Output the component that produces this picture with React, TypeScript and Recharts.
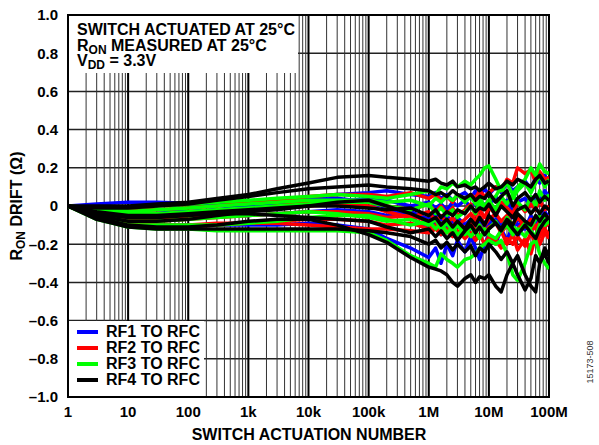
import React from 'react'
import { LineChart, Line, XAxis, YAxis, CartesianGrid, ReferenceArea, ReferenceLine } from 'recharts'

const actuations = [
  1, 3, 10, 30, 100, 300, 1e3, 3e3, 1e4, 3e4, 1e5, 2e5, 5e5,
  1e6, 1.3e6, 1.6e6, 2e6, 2.5e6, 3e6, 4e6, 5e6, 6e6, 7e6, 8.5e6,
  1e7, 1.3e7, 1.6e7, 2e7, 2.5e7, 3e7, 4e7, 5e7, 6e7, 7e7, 8.5e7, 1e8,
]

// RF1 TO RFC (blue)
const rf1a = [0, 0.01, 0.02, 0.02, 0.015, 0.01, 0.01, 0.02, 0.04, 0.06, 0.07, 0.08, 0.06, 0.05, 0.07, 0.04, 0.06, 0.03, 0.05, 0.07, 0.04, 0.08, 0.05, 0.09, 0.06, 0.1, 0.07, 0.12, 0.08, 0.1, 0.13, 0.09, 0.15, 0.12, 0.16, 0.13]
const rf1b = [0, -0.01, -0.02, -0.02, -0.03, -0.02, -0.01, 0, 0.01, 0.02, 0.04, 0.03, 0, 0.02, -0.01, 0.01, -0.02, 0.02, 0, 0.03, -0.01, 0.02, -0.02, 0.01, 0, 0.05, 0.01, 0.03, -0.03, 0.02, 0.04, 0, 0.06, 0.02, 0.08, 0.05]
const rf1c = [0, -0.03, -0.05, -0.06, -0.06, -0.05, -0.05, -0.04, -0.03, -0.02, -0.03, -0.05, -0.03, -0.07, -0.04, -0.08, -0.05, -0.09, -0.06, -0.1, -0.07, -0.11, -0.06, -0.09, -0.08, -0.04, -0.1, -0.07, -0.12, -0.06, -0.12, -0.05, -0.1, -0.07, -0.03, -0.06]
const rf1d = [0, -0.05, -0.09, -0.1, -0.1, -0.1, -0.1, -0.1, -0.09, -0.1, -0.12, -0.17, -0.22, -0.27, -0.22, -0.3, -0.2, -0.26, -0.18, -0.24, -0.16, -0.22, -0.28, -0.2, -0.15, -0.2, -0.12, -0.18, -0.1, -0.16, -0.1, -0.14, -0.08, -0.12, -0.06, -0.1]
const rf1e = [0, -0.02, -0.04, -0.04, -0.03, -0.02, 0, 0.01, 0.03, 0.04, 0.02, -0.01, -0.06, -0.12, -0.08, -0.15, -0.1, -0.14, -0.09, -0.16, -0.11, -0.13, -0.08, -0.12, -0.1, -0.07, -0.13, -0.09, -0.05, -0.1, -0.08, -0.12, -0.06, -0.05, -0.09, -0.07]

// RF2 TO RFC (red)
const rf2a = [0, -0.01, -0.02, -0.02, -0.01, 0, 0.02, 0.03, 0.05, 0.06, 0.06, 0.05, 0.07, 0.04, 0.06, 0.03, 0.05, 0.02, 0.06, 0.03, 0.06, 0.04, 0.08, 0.05, 0.07, 0.1, 0.08, 0.14, 0.12, 0.2, 0.17, 0.19, 0.12, 0.18, 0.14, 0.15]
const rf2b = [0, -0.03, -0.05, -0.05, -0.04, -0.03, -0.02, -0.01, 0, 0.01, 0.02, 0, -0.02, 0.01, -0.03, 0, -0.04, -0.01, -0.05, -0.02, 0.01, -0.05, -0.02, -0.06, -0.01, -0.04, 0.02, -0.01, -0.04, 0.02, -0.03, 0.01, -0.02, 0.03, -0.02, 0]
const rf2c = [0, -0.05, -0.08, -0.08, -0.07, -0.06, -0.05, -0.04, -0.03, -0.03, -0.04, -0.06, -0.05, -0.08, -0.06, -0.1, -0.07, -0.11, -0.08, -0.12, -0.09, -0.13, -0.1, -0.14, -0.11, -0.09, -0.14, -0.1, -0.15, -0.12, -0.08, -0.13, -0.1, -0.15, -0.11, -0.09]
const rf2d = [0, -0.06, -0.1, -0.11, -0.11, -0.1, -0.09, -0.08, -0.07, -0.07, -0.08, -0.1, -0.09, -0.12, -0.1, -0.14, -0.12, -0.15, -0.13, -0.17, -0.14, -0.18, -0.15, -0.2, -0.16, -0.18, -0.22, -0.17, -0.2, -0.16, -0.21, -0.14, -0.2, -0.16, -0.12, -0.15]
const rf2e = [0, -0.04, -0.07, -0.07, -0.06, -0.04, -0.02, 0, 0.02, 0.02, 0, -0.03, -0.06, -0.03, -0.08, -0.05, -0.09, -0.06, -0.1, -0.07, -0.04, -0.08, -0.05, -0.1, -0.07, -0.04, -0.08, -0.05, -0.1, -0.06, -0.11, -0.07, -0.12, -0.08, -0.05, -0.06]
const rf2f = [0, -0.05, -0.09, -0.1, -0.1, -0.09, -0.09, -0.09, -0.1, -0.11, -0.12, -0.12, -0.13, -0.14, -0.12, -0.15, -0.13, -0.16, -0.14, -0.11, -0.15, -0.13, -0.17, -0.12, -0.15, -0.18, -0.13, -0.2, -0.15, -0.23, -0.17, -0.25, -0.16, -0.2, -0.14, -0.17]

// RF3 TO RFC (green)
const rf3a = [0, -0.01, -0.01, 0, 0.01, 0.02, 0.03, 0.04, 0.05, 0.06, 0.05, 0.04, 0.06, 0.08, 0.06, 0.1, 0.09, 0.12, 0.1, 0.13, 0.11, 0.14, 0.16, 0.2, 0.21, 0.14, 0.08, 0.12, 0.06, 0.1, 0.14, 0.2, 0.16, 0.22, 0.18, 0.17]
const rf3b = [0, -0.03, -0.04, -0.04, -0.03, -0.02, -0.01, 0, 0.01, 0.02, 0.02, 0, -0.02, 0.01, -0.04, -0.01, -0.05, -0.02, -0.06, -0.03, 0, -0.04, 0.02, -0.01, 0.03, -0.02, 0.05, 0.01, 0.06, 0.02, -0.02, 0.05, 0, 0.08, 0.03, 0.06]
const rf3c = [0, -0.05, -0.08, -0.08, -0.07, -0.06, -0.05, -0.04, -0.03, -0.04, -0.06, -0.08, -0.07, -0.1, -0.07, -0.12, -0.09, -0.13, -0.1, -0.15, -0.11, -0.14, -0.1, -0.15, -0.12, -0.08, -0.13, -0.06, -0.1, -0.14, -0.09, -0.13, -0.16, -0.1, -0.05, -0.09]
const rf3d = [0, -0.07, -0.11, -0.12, -0.12, -0.13, -0.13, -0.13, -0.13, -0.13, -0.14, -0.18, -0.26, -0.3, -0.32, -0.25, -0.28, -0.3, -0.32, -0.28, -0.27, -0.25, -0.22, -0.2, -0.18, -0.2, -0.18, -0.25, -0.36, -0.39, -0.3, -0.2, -0.18, -0.25, -0.3, -0.33]
const rf3e = [0, -0.06, -0.1, -0.1, -0.1, -0.1, -0.09, -0.08, -0.06, -0.05, -0.05, -0.07, -0.1, -0.08, -0.12, -0.09, -0.14, -0.11, -0.15, -0.12, -0.16, -0.13, -0.17, -0.12, -0.15, -0.17, -0.13, -0.1, -0.15, -0.12, -0.16, -0.11, -0.07, -0.05, -0.1, -0.08]
const rf3f = [0, -0.02, -0.03, -0.02, -0.01, 0, 0.01, 0.02, 0.03, 0.03, 0.03, 0.02, 0.03, 0, 0.04, 0.02, 0.05, 0.03, 0.06, 0.02, 0.05, 0.01, 0.04, 0, 0.03, 0.05, 0.1, 0.06, 0.04, 0.08, 0.12, 0.07, 0.12, 0.16, 0.1, 0.14]

// RF4 TO RFC (black)
const rf4a = [0, 0, 0, 0.01, 0.02, 0.04, 0.06, 0.09, 0.12, 0.15, 0.16, 0.15, 0.14, 0.13, 0.14, 0.12, 0.11, 0.13, 0.1, 0.11, 0.09, 0.1, 0.08, 0.1, 0.12, 0.09, 0.1, 0.13, 0.11, 0.14, 0.12, 0.1, 0.14, 0.16, 0.12, 0.13]
const rf4b = [0, -0.01, -0.01, 0, 0.01, 0.03, 0.05, 0.07, 0.09, 0.1, 0.11, 0.1, 0.09, 0.08, 0.06, 0.07, 0.05, 0.08, 0.06, 0.04, 0.06, 0.03, 0.05, 0.04, 0.07, 0.02, 0.05, 0.08, 0, 0.04, 0.07, 0.03, 0.06, 0.02, 0.05, 0.03]
const rf4c = [0, -0.03, -0.05, -0.05, -0.04, -0.03, -0.02, -0.01, 0, 0, -0.01, -0.02, -0.01, -0.05, -0.02, -0.06, -0.03, -0.05, -0.02, -0.04, 0, -0.03, -0.01, -0.02, 0.01, -0.05, 0, -0.03, -0.06, -0.02, 0, -0.04, -0.01, -0.04, 0, -0.02]
const rf4d = [0, -0.06, -0.1, -0.11, -0.11, -0.1, -0.08, -0.07, -0.07, -0.1, -0.15, -0.19, -0.27, -0.32, -0.33, -0.34, -0.36, -0.4, -0.42, -0.38, -0.36, -0.4, -0.37, -0.38, -0.36, -0.42, -0.45, -0.36, -0.3, -0.36, -0.44, -0.38, -0.26, -0.3, -0.22, -0.26]
const rf4e = [0, -0.07, -0.11, -0.12, -0.12, -0.12, -0.12, -0.12, -0.12, -0.12, -0.13, -0.14, -0.16, -0.2, -0.18, -0.22, -0.19, -0.23, -0.2, -0.24, -0.21, -0.26, -0.22, -0.24, -0.2, -0.24, -0.28, -0.24, -0.3, -0.26, -0.36, -0.42, -0.45, -0.3, -0.25, -0.3]
const rf4f = [0, -0.05, -0.08, -0.08, -0.07, -0.05, -0.03, -0.02, 0, 0.02, 0.03, 0, -0.04, -0.08, -0.06, -0.1, -0.07, -0.11, -0.08, -0.12, -0.07, -0.1, -0.06, -0.1, -0.05, -0.09, -0.12, -0.07, -0.1, -0.04, -0.08, -0.1, -0.05, -0.08, -0.04, -0.07]
const rf4g = [0, -0.04, -0.06, -0.06, -0.05, -0.04, -0.04, -0.05, -0.06, -0.07, -0.08, -0.11, -0.14, -0.12, -0.16, -0.13, -0.17, -0.14, -0.18, -0.13, -0.1, -0.14, -0.11, -0.15, -0.12, -0.09, -0.13, -0.08, -0.12, -0.15, -0.1, -0.14, -0.17, -0.12, -0.08, -0.06]

const groups = [
  { name: 'RF1 TO RFC', color: '#0000ff', lines: [rf1a, rf1b, rf1c, rf1d, rf1e] },
  { name: 'RF2 TO RFC', color: '#ff0000', lines: [rf2a, rf2b, rf2c, rf2d, rf2e, rf2f] },
  { name: 'RF3 TO RFC', color: '#00ff00', lines: [rf3a, rf3b, rf3c, rf3d, rf3e, rf3f] },
  { name: 'RF4 TO RFC', color: '#000000', lines: [rf4a, rf4b, rf4c, rf4d, rf4e, rf4f, rf4g] },
]

const decades = [1, 10, 100, 1e3, 1e4, 1e5, 1e6, 1e7, 1e8]
const decadeLabels = ['1', '10', '100', '1k', '10k', '100k', '1M', '10M', '100M']
const yTicks = [-1, -0.8, -0.6, -0.4, -0.2, 0, 0.2, 0.4, 0.6, 0.8, 1]

// every 1..9 x 10^n position gets a grid line, only decades get a label
const xTicks: number[] = []
for (let d = 0; d < 8; d++) for (let m = 1; m < 10; m++) xTicks.push(m * Math.pow(10, d))
xTicks.push(1e8)

const series: { key: string; color: string }[] = []
const data = actuations.map((x, i) => {
  const row: Record<string, number> = { x }
  groups.forEach((g, gi) =>
    g.lines.forEach((vals, li) => {
      row[`s${gi}_${li}`] = vals[i]
    }),
  )
  return row
})
groups.forEach((g, gi) => g.lines.forEach((_, li) => series.push({ key: `s${gi}_${li}`, color: g.color })))

const font = 'Arial, "Liberation Sans", sans-serif'
const subStyle = { fontSize: 12, verticalAlign: -3, lineHeight: 0 }

const fmtX = (v: number) => {
  const i = decades.indexOf(v)
  return i >= 0 ? decadeLabels[i] : ''
}
const fmtY = (v: number) => (v === 0 ? '0' : (v < 0 ? '–' : '') + Math.abs(v).toFixed(1))

export default function App() {
  return (
    <div style={{ position: 'absolute', left: 0, top: 0, width: 599, height: 445, background: '#fff', fontFamily: font }}>
      <LineChart width={599} height={445} data={data} margin={{ top: 15, right: 50, bottom: 8, left: 28 }}>
        <CartesianGrid stroke="#222" strokeWidth={1.5} vertical={false} />
        <CartesianGrid stroke="#333" strokeWidth={1} horizontal={false} />
        <XAxis
          dataKey="x"
          type="number"
          scale="log"
          domain={[1, 1e8]}
          ticks={xTicks}
          interval={0}
          tickFormatter={fmtX}
          tickLine={false}
          axisLine={false}
          tickSize={0}
          tickMargin={9}
          height={40}
          tick={{ fill: '#000', fontSize: 15, fontWeight: 'bold', fontFamily: font }}
          allowDataOverflow
        />
        <YAxis
          type="number"
          domain={[-1, 1]}
          ticks={yTicks}
          interval={0}
          tickFormatter={fmtY}
          tickLine={false}
          axisLine={false}
          tickSize={0}
          tickMargin={10}
          width={40}
          tick={{ fill: '#000', fontSize: 15, fontWeight: 'bold', fontFamily: font }}
        />
        {decades.map((d) => (
          <ReferenceLine key={d} x={d} stroke="#000" strokeWidth={2} />
        ))}
        {series.map((s) => (
          <Line
            key={s.key}
            dataKey={s.key}
            type="linear"
            stroke={s.color}
            strokeWidth={3.5}
            strokeLinejoin="round"
            dot={false}
            isAnimationActive={false}
          />
        ))}
        <ReferenceArea x1={1} x2={1e8} y1={-1} y2={1} fill="none" stroke="#000" strokeWidth={2} />
      </LineChart>

      {/* conditions box */}
      <div style={{ position: 'absolute', left: 69, top: 16, width: 229, height: 57, background: '#fff', fontSize: 16, fontWeight: 'bold', lineHeight: '15.5px', paddingLeft: 8, paddingTop: 6, boxSizing: 'border-box' }}>
        <div>SWITCH ACTUATED AT 25°C</div>
        <div>R<sub style={subStyle}>ON</sub> MEASURED AT 25°C</div>
        <div>V<sub style={subStyle}>DD</sub> = 3.3V</div>
      </div>

      {/* legend */}
      <div style={{ position: 'absolute', left: 69, top: 321, width: 135, height: 75, background: '#fff', fontSize: 16, fontWeight: 'bold', paddingTop: 3, boxSizing: 'border-box' }}>
        {groups.map((g) => (
          <div key={g.name} style={{ display: 'flex', alignItems: 'center', height: 16 }}>
            <span style={{ display: 'inline-block', width: 21, height: 4, background: g.color, marginLeft: 8, marginRight: 8 }} />
            {g.name}
          </div>
        ))}
      </div>

      {/* axis titles */}
      <div style={{ position: 'absolute', left: 0, width: 618, top: 426, textAlign: 'center', fontSize: 16, fontWeight: 'bold' }}>
        SWITCH ACTUATION NUMBER
      </div>
      <div style={{ position: 'absolute', left: 17, top: 206, transform: 'translate(-50%, -50%) rotate(-90deg)', whiteSpace: 'nowrap', fontSize: 16, fontWeight: 'bold' }}>
        R<sub style={subStyle}>ON</sub> DRIFT (Ω)
      </div>
      <div style={{ position: 'absolute', left: 590, top: 362, transform: 'translate(-50%, -50%) rotate(-90deg)', whiteSpace: 'nowrap', fontSize: 9, color: '#333' }}>
        15173-508
      </div>
    </div>
  )
}
